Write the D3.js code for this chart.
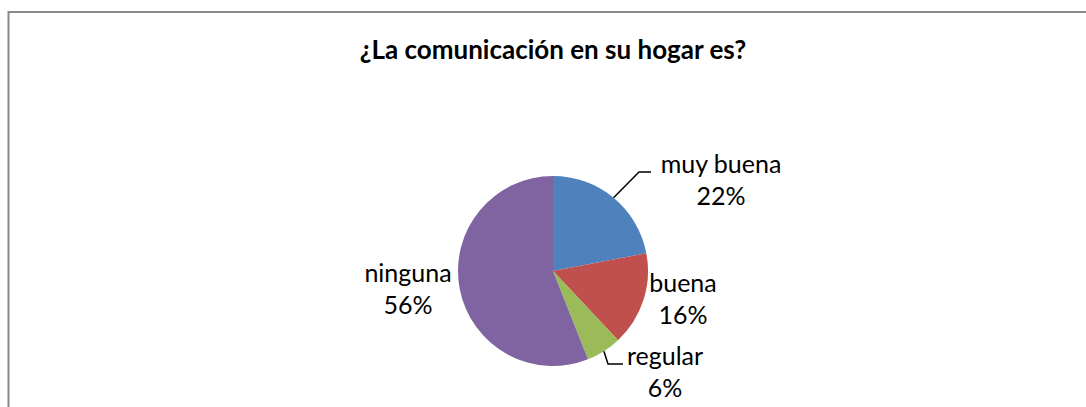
<!DOCTYPE html>
<html>
<head>
<meta charset="utf-8">
<script src="https://cdnjs.cloudflare.com/ajax/libs/d3/7.8.5/d3.min.js"></script>
<style>
  body { margin: 0; background: #fff; overflow: hidden; }
  svg { display: block; }
  text { font-family: Lato, "Open Sans", sans-serif; fill: #000; }
</style>
</head>
<body>
<div id="chart"></div>
<script>
var title = "¿La comunicación en su hogar es?";
var categories = ["muy buena", "buena", "regular", "ninguna"];
var values = [22, 16, 6, 56];
var colors = ["#4F81BD", "#C0504D", "#9BBB59", "#8064A2"];

var WIDTH = 1086, HEIGHT = 407;
var cx = 553, cy = 271, R = 95;

// label placement (center x, first baseline), and leader line bends
var labelPos = [[721, 173], [683, 292], [665, 365], [408, 282]];
var leaders = [[[639, 172], [651, 172]], null, [[608, 364], [623, 364]], null];

var svg = d3.select("#chart")
    .append("svg")
    .attr("width", WIDTH)
    .attr("height", HEIGHT);

// frame: only top and left edges show in the picture
svg.append("path")
    .attr("d", "M8.5," + HEIGHT + "V12H" + WIDTH)
    .attr("fill", "none")
    .attr("stroke", "#8a8a8a")
    .attr("stroke-width", 2);

svg.append("text")
    .attr("x", cx)
    .attr("y", 59)
    .attr("text-anchor", "middle")
    .style("font-weight", "bold")
    .style("font-size", "26px")
    .text(title);

var pie = d3.pie().sort(null).value(function(d) { return d; });
var arcs = pie(values);
var arc = d3.arc().innerRadius(0).outerRadius(R);
var edge = d3.arc().innerRadius(R).outerRadius(R);

var g = svg.append("g").attr("transform", "translate(" + cx + "," + cy + ")");

g.selectAll("path")
    .data(arcs)
    .enter()
    .append("path")
    .attr("d", arc)
    .attr("fill", function(d, i) { return colors[i]; });

var total = d3.sum(values);

arcs.forEach(function(d, i) {
    if (leaders[i]) {
        var p = edge.centroid(d);
        var pts = [[cx + p[0], cy + p[1]]].concat(leaders[i]);
        svg.append("path")
            .attr("d", d3.line()(pts))
            .attr("fill", "none")
            .attr("stroke", "#000")
            .attr("stroke-width", 1.5);
    }
    var t = svg.append("text")
        .attr("text-anchor", "middle")
        .style("font-size", "25px");
    t.append("tspan")
        .attr("x", labelPos[i][0])
        .attr("y", labelPos[i][1])
        .text(categories[i]);
    t.append("tspan")
        .attr("x", labelPos[i][0])
        .attr("y", labelPos[i][1] + 32)
        .text(Math.round(values[i] / total * 100) + "%");
});
</script>
</body>
</html>
